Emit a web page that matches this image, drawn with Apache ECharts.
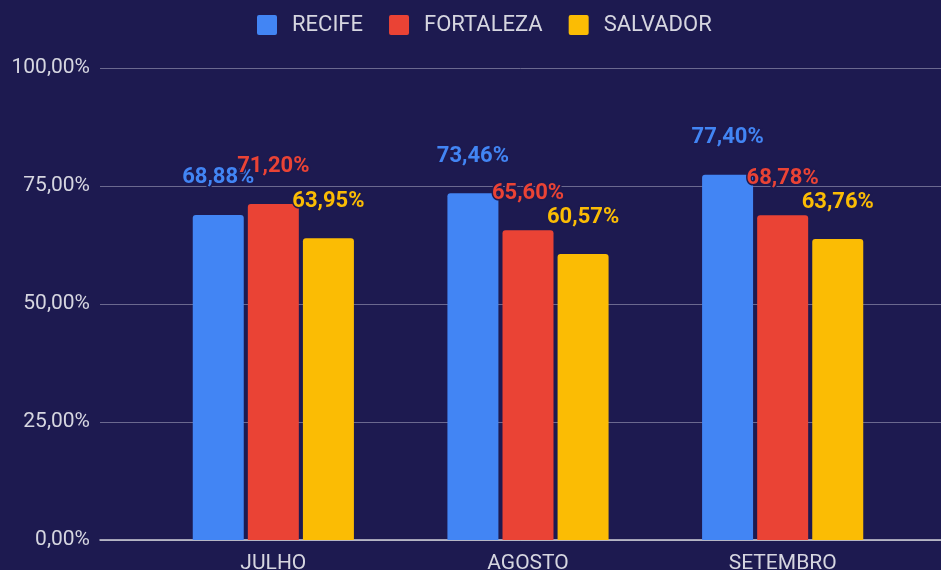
<!DOCTYPE html>
<html>
<head>
<meta charset="utf-8">
<script src="https://cdn.jsdelivr.net/npm/echarts@6/dist/echarts.min.js"></script>
<style>html,body{margin:0;padding:0;background:#1d1a50;}#c{width:941px;height:570px;}</style>
</head>
<body>
<div id="c"></div>
<script>
const categories = ['JULHO', 'AGOSTO', 'SETEMBRO'];
const seriesNames = ['RECIFE', 'FORTALEZA', 'SALVADOR'];
const recife = [68.88, 73.46, 77.40];
const fortaleza = [71.20, 65.60, 68.78];
const salvador = [63.95, 60.57, 63.76];
const yTicks = [0, 25, 50, 75, 100];

const colors = ['#4285f4', '#ea4335', '#fbbc04'];
const bg = '#1d1a50';
const fmt = v => v.toFixed(2).replace('.', ',') + '%';
const font = 'Roboto';
const textColor = '#d6d6e0';

const chart = echarts.init(document.getElementById('c'), null, {renderer: 'canvas'});

function barSeries(name, data, color) {
  return {
    name: name,
    type: 'bar',
    xAxisIndex: 1,
    yAxisIndex: 1,
    data: data,
    barWidth: 51,
    barGap: '8%',
    itemStyle: {color: color, borderRadius: [3, 3, 0, 0]},
    label: {
      show: true,
      position: 'top',
      distance: 26,
      formatter: p => fmt(p.value),
      color: color,
      fontFamily: font,
      fontWeight: 'bold',
      fontSize: 22,
      textBorderColor: bg,
      textBorderWidth: 3
    }
  };
}

chart.setOption({
  backgroundColor: bg,
  animation: false,
  legend: {
    left: 252,
    top: 9,
    itemWidth: 20,
    itemHeight: 20,
    itemGap: 26,
    icon: 'path://M2,0 L18,0 Q20,0 20,2 L20,18 Q20,20 18,20 L2,20 Q0,20 0,18 L0,2 Q0,0 2,0 Z',
    data: seriesNames,
    textStyle: {color: textColor, fontSize: 22, fontFamily: font, padding: [0, 0, 0, 10]}
  },
  grid: [
    {left: 100, right: 0, top: 68, bottom: 30, containLabel: false, outerBoundsMode: 'none'},
    {left: 146, right: 31, top: 68, bottom: 30, containLabel: false, outerBoundsMode: 'none'}
  ],
  xAxis: [
    {
      gridIndex: 0, type: 'category', data: [''],
      axisLine: {show: true, lineStyle: {color: '#cfcfd8', width: 1.5}},
      axisTick: {show: false}, axisLabel: {show: false}, splitLine: {show: false}
    },
    {
      gridIndex: 1, type: 'category', data: categories,
      axisLine: {show: false}, axisTick: {show: false},
      axisLabel: {color: textColor, fontSize: 21, fontFamily: font, margin: 13}
    }
  ],
  yAxis: [
    {
      gridIndex: 0, type: 'value', min: yTicks[0], max: yTicks[yTicks.length - 1], interval: 25,
      axisLine: {show: false}, axisTick: {show: false},
      axisLabel: {color: textColor, fontSize: 21, fontFamily: font, margin: 10, formatter: v => fmt(v)},
      splitLine: {show: true, lineStyle: {color: '#6b698f', width: 1}}
    },
    {
      gridIndex: 1, type: 'value', min: 0, max: 100, interval: 25, show: false,
      splitLine: {show: false}
    }
  ],
  series: [
    barSeries(seriesNames[0], recife, colors[0]),
    barSeries(seriesNames[1], fortaleza, colors[1]),
    barSeries(seriesNames[2], salvador, colors[2])
  ]
});
</script>
</body>
</html>
